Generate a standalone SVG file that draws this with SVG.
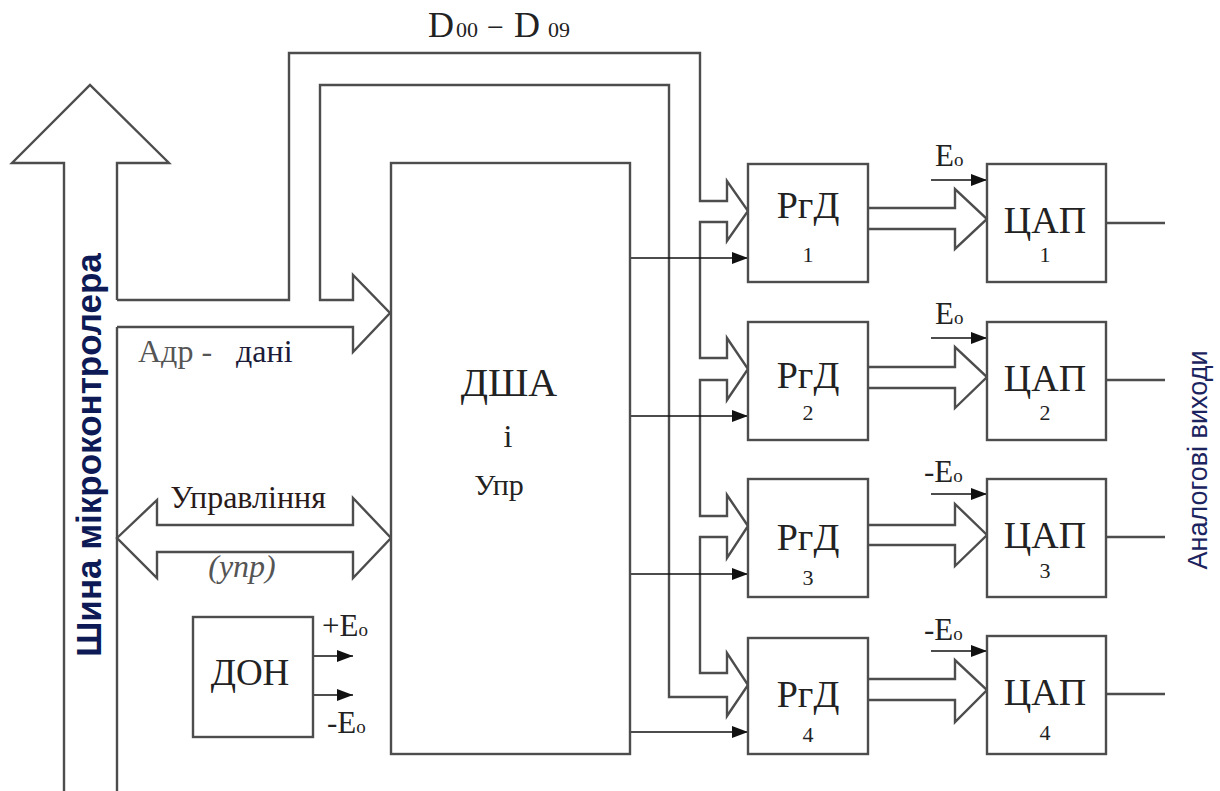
<svg xmlns="http://www.w3.org/2000/svg" width="1220" height="791" viewBox="0 0 1220 791">
<style>
.o{fill:none;stroke:#4d4d4d;stroke-width:2.4;stroke-linejoin:miter}
.b{fill:#fff;stroke:#4d4d4d;stroke-width:2.4}
.t{fill:none;stroke:#111;stroke-width:1.6}
.s{font-family:"Liberation Serif","DejaVu Serif","Times New Roman",serif;fill:#222}
.big{font-size:38px;text-anchor:middle}
.num{font-size:22px;text-anchor:middle}
.e{font-size:31px}
.eo{font-size:19px}
</style>
<defs>
<marker id="ah" markerUnits="userSpaceOnUse" markerWidth="16" markerHeight="12" refX="16" refY="6" orient="auto">
<path d="M0,0 L16,6 L0,12 z" fill="#111"/>
</marker>
</defs>
<rect width="1220" height="791" fill="#fff"/>

<g id="connectors">
<path class="o" d="M64,791 L64,163 L12,163 L90,85 L169,163 L117,163 L117,300"/>
<path class="o" d="M117,327 L117,791"/>
<path class="o" d="M117,300 L289,300 L289,53 L700,53 L700,201 L727,201 L727,181 L748,211 L727,241 L727,222 L700,222 L700,358 L727,358 L727,338 L748,369 L727,400 L727,380 L700,380 L700,516 L727,516 L727,495 L748,526 L727,558 L727,537 L700,537 L700,673 L727,673 L727,653 L748,685 L727,716 L727,697 L669,697 L669,85 L320,85 L320,300 L353,300 L353,275 L390,313 L353,352 L353,327 L117,327"/>
<path class="o" d="M117,538 L157,500 L157,525 L353,525 L353,498 L391,538 L353,578 L353,552 L157,552 L157,578 Z"/>
<line class="t" x1="630" y1="258" x2="748" y2="258" marker-end="url(#ah)"/>
<line class="t" x1="630" y1="416" x2="748" y2="416" marker-end="url(#ah)"/>
<line class="t" x1="630" y1="574" x2="748" y2="574" marker-end="url(#ah)"/>
<line class="t" x1="630" y1="732" x2="748" y2="732" marker-end="url(#ah)"/>
<path class="o" d="M868,208 L955,208 L955,189 L987,219 L955,249 L955,229 L868,229"/>
<path class="o" d="M868,367 L955,367 L955,347 L987,377 L955,408 L955,388 L868,388"/>
<path class="o" d="M868,525 L955,525 L955,504 L987,535 L955,566 L955,545 L868,545"/>
<path class="o" d="M868,679 L955,679 L955,660 L987,690 L955,722 L955,700 L868,700"/>
<line class="t" x1="931" y1="180" x2="987" y2="180" marker-end="url(#ah)"/>
<line class="t" x1="931" y1="338" x2="987" y2="338" marker-end="url(#ah)"/>
<line class="t" x1="931" y1="494" x2="987" y2="494" marker-end="url(#ah)"/>
<line class="t" x1="931" y1="651" x2="987" y2="651" marker-end="url(#ah)"/>
<line class="t" x1="313" y1="656" x2="353" y2="656" marker-end="url(#ah)"/>
<line class="t" x1="313" y1="695" x2="353" y2="695" marker-end="url(#ah)"/>
<line class="o" x1="1106" y1="223" x2="1165" y2="223"/>
<line class="o" x1="1106" y1="380" x2="1165" y2="380"/>
<line class="o" x1="1106" y1="537" x2="1165" y2="537"/>
<line class="o" x1="1106" y1="694" x2="1165" y2="694"/>
</g>

<g id="bus-label">
<text transform="translate(101,455) rotate(-90)" font-family="Liberation Sans, Arial, sans-serif" font-weight="bold" font-size="35" fill="#0d1a55" text-anchor="middle">Шина мікроконтролера</text>
</g>

<g id="data-label" class="s">
<text x="428" y="37" font-size="36">D</text>
<text x="456" y="37" font-size="22">00</text>
<text x="487" y="37" font-size="30">−</text>
<text x="514" y="37" font-size="36">D</text>
<text x="548" y="37" font-size="22">09</text>
</g>

<g id="addr-label" class="s">
<text x="138" y="362" font-size="32" fill="#555" xml:space="preserve">Адр -   <tspan fill="#1b1b3a">дані</tspan></text>
</g>

<g id="ctrl-label" class="s">
<text x="248" y="508" font-size="32" text-anchor="middle" fill="#2a1a1a">Управління</text>
<text x="242" y="577" font-size="32" font-style="italic" text-anchor="middle" fill="#555">(упр)</text>
</g>

<g id="dsha">
<rect class="b" x="391" y="163" width="239" height="591"/>
<text class="s" x="509" y="396" font-size="40" text-anchor="middle">ДША</text>
<text class="s" x="508" y="447" font-size="32" text-anchor="middle" fill="#1b1b3a">і</text>
<text class="s" x="499" y="495" font-size="30" text-anchor="middle">Упр</text>
</g>

<g id="don">
<rect class="b" x="193" y="617" width="120" height="120"/>
<text class="s" x="250" y="685" font-size="37" text-anchor="middle">ДОН</text>
<text class="s e" x="322" y="636">+E<tspan class="eo">o</tspan></text>
<text class="s e" x="327" y="733">-E<tspan class="eo">o</tspan></text>
</g>

<g id="rgd1">
<rect class="b" x="748" y="164" width="120" height="118"/>
<text class="s big" x="808" y="218">РгД</text>
<text class="s num" x="808" y="262">1</text>
</g>
<g id="rgd2">
<rect class="b" x="748" y="322" width="120" height="118"/>
<text class="s big" x="808" y="388">РгД</text>
<text class="s num" x="808" y="420">2</text>
</g>
<g id="rgd3">
<rect class="b" x="748" y="479" width="120" height="118"/>
<text class="s big" x="808" y="550">РгД</text>
<text class="s num" x="808" y="585">3</text>
</g>
<g id="rgd4">
<rect class="b" x="748" y="638" width="120" height="116"/>
<text class="s big" x="808" y="707">РгД</text>
<text class="s num" x="808" y="742">4</text>
</g>

<g id="dac1">
<rect class="b" x="987" y="164" width="119" height="118"/>
<text class="s big" x="1045" y="233">ЦАП</text>
<text class="s num" x="1045" y="262">1</text>
<text class="s e" x="935" y="166">E<tspan class="eo">o</tspan></text>
</g>
<g id="dac2">
<rect class="b" x="987" y="322" width="119" height="118"/>
<text class="s big" x="1045" y="391">ЦАП</text>
<text class="s num" x="1045" y="420">2</text>
<text class="s e" x="935" y="324">E<tspan class="eo">o</tspan></text>
</g>
<g id="dac3">
<rect class="b" x="987" y="479" width="119" height="118"/>
<text class="s big" x="1045" y="548">ЦАП</text>
<text class="s num" x="1045" y="578">3</text>
<text class="s e" x="924" y="482">-E<tspan class="eo">o</tspan></text>
</g>
<g id="dac4">
<rect class="b" x="987" y="636" width="119" height="118"/>
<text class="s big" x="1045" y="705">ЦАП</text>
<text class="s num" x="1045" y="740">4</text>
<text class="s e" x="924" y="640">-E<tspan class="eo">o</tspan></text>
</g>

<g id="out-label">
<text transform="translate(1207,460) rotate(-90)" font-family="Liberation Sans, Arial, sans-serif" font-size="27" fill="#1c2460" text-anchor="middle">Аналогові виходи</text>
</g>
</svg>
